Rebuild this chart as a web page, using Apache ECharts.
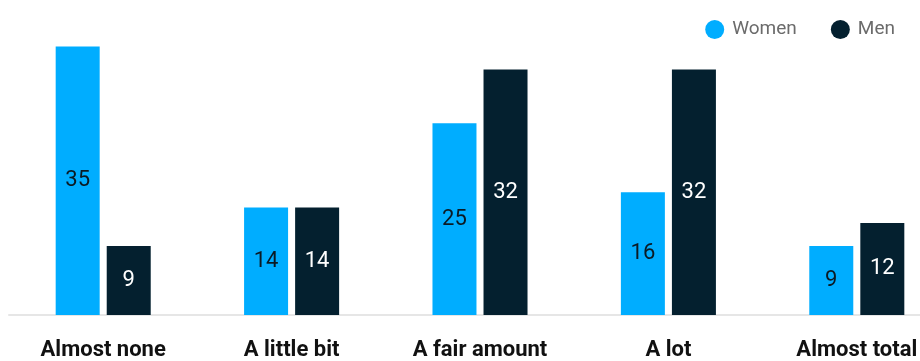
<!DOCTYPE html>
<html>
<head>
<meta charset="utf-8">
<script src="https://cdn.jsdelivr.net/npm/echarts@6/dist/echarts.min.js"></script>
<style>
  html, body { margin: 0; padding: 0; background: #ffffff; overflow: hidden; }
  #wrap { width: 920px; height: 361px; overflow: hidden; }
  #chart { width: 951px; height: 361px; }
</style>
</head>
<body>
<div id="wrap"><div id="chart"></div></div>
<script>
// Answer categories along the horizontal axis
const categories = ['Almost none', 'A little bit', 'A fair amount', 'A lot', 'Almost total'];
// Share of respondents per answer
const womenValues = [35, 14, 25, 16, 9];
const menValues = [9, 14, 32, 32, 12];
const seriesNames = ['Women', 'Men'];

const WOMEN_COLOR = '#00adff';
const MEN_COLOR = '#04202f';
const FONT = 'Roboto, "Liberation Sans", Arial, sans-serif';

const chart = echarts.init(document.getElementById('chart'), null, { renderer: 'canvas' });

chart.setOption({
  animation: false,
  backgroundColor: '#ffffff',
  textStyle: { fontFamily: FONT },
  legend: {
    data: seriesNames,
    right: 51,
    top: 15,
    icon: 'circle',
    itemWidth: 19,
    itemHeight: 19,
    itemGap: 34,
    textStyle: { fontFamily: FONT, fontSize: 19, color: '#6b6b6b', padding: [0, 0, 0, 3] }
  },
  grid: { left: 9, right: 0, top: 8, bottom: 41.5, containLabel: false },
  xAxis: {
    type: 'category',
    data: categories,
    axisLine: { show: true, lineStyle: { color: '#e6e6e6', width: 2 } },
    axisTick: { show: false },
    axisLabel: {
      margin: 24,
      fontFamily: FONT,
      fontSize: 22,
      fontWeight: 'bold',
      color: '#111111'
    }
  },
  yAxis: {
    type: 'value',
    min: 0,
    max: 40,
    show: false,
    splitLine: { show: false }
  },
  series: [
    {
      name: seriesNames[0],
      type: 'bar',
      data: womenValues,
      barWidth: 44,
      barGap: '16%',
      itemStyle: { color: WOMEN_COLOR },
      label: {
        show: true,
        position: 'inside',
        fontFamily: FONT,
        fontSize: 22,
        color: '#0b1a24'
      }
    },
    {
      name: seriesNames[1],
      type: 'bar',
      data: menValues,
      barWidth: 44,
      itemStyle: { color: MEN_COLOR },
      label: {
        show: true,
        position: 'inside',
        fontFamily: FONT,
        fontSize: 22,
        color: '#ffffff'
      }
    }
  ]
});
</script>
</body>
</html>
